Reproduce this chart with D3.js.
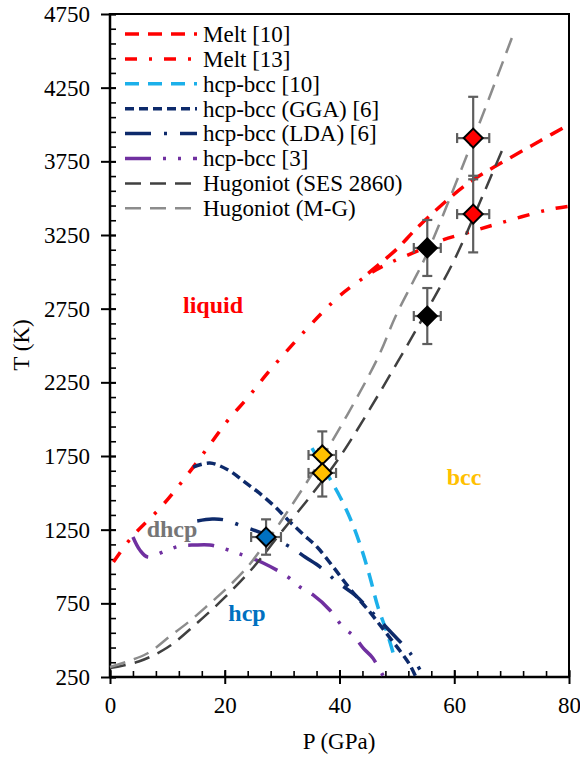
<!DOCTYPE html>
<html><head><meta charset="utf-8">
<script src="https://cdn.jsdelivr.net/npm/d3@7"></script>
<style>body{margin:0;background:#fff}svg{display:block}</style>
</head><body>
<svg id="c" width="580" height="761" font-family="Liberation Serif"></svg>
<script>
// ---- data ----
const pressureTicks = [0, 20, 40, 60, 80];
const tempTicks = [250, 750, 1250, 1750, 2250, 2750, 3250, 3750, 4250, 4750];
const pressureMinor = d3.range(0, 81, 4);
const tempMinor = d3.range(250, 4751, 100);

const melt10 = [[45,2990],[50,3155],[53.3,3290],[58,3460],[62,3590],[66,3690],[70,3780],[75,3890],[80,4000]];
const melt13 = [[0.6,1030],[3.8,1200],[8.9,1404],[13.6,1628],[18,1859],[20.6,1995],[24.1,2150],[27.2,2300],[30.5,2449],[34,2600],[37.1,2727],[40.1,2840],[45.8,3000],[49.1,3067],[54,3148],[58,3216],[62.7,3270],[68,3331],[76.2,3420],[80,3445]];
const hcpBcc10 = [[35.2,1804],[40.1,1472],[42.2,1295],[43.9,1112],[45.3,929],[46.7,725],[48.3,549],[49.7,365]];
const hcpBccGGA = [[14.5,1675],[17.4,1702],[20.6,1655],[23.5,1573],[26,1499],[28.8,1404],[31.2,1309],[33.8,1214],[36.1,1132],[38.9,997],[41.8,850],[45.3,690],[47.9,560],[50.5,430],[52.3,330],[53.3,250]];
const hcpBccLDA = [[15.2,1309],[17.8,1322],[20,1316],[22.5,1282],[27.2,1214],[31.7,1126],[34,1064],[36.6,997],[39.6,895],[42.9,800],[44.8,725],[49.1,549],[52.3,413],[54,300]];
const hcpBcc3 = [[4,1200],[5.2,1112],[6.6,1064],[9.6,1105],[12.2,1139],[14.8,1146],[17.4,1146],[19.5,1126],[22.1,1092],[26.7,1024],[31,929],[33.1,861],[35.4,807],[38.3,705],[40.6,589],[42.5,528],[44.1,447],[45.8,379],[47.7,250]];
const hugSES = [[0,311],[5,355],[10,450],[15,610],[20,790],[25,995],[30,1240],[35,1480],[40,1740],[45,2050],[50,2380],[55,2720],[60,3080],[65,3520],[68.5,3840]];
const hugMG = [[0,318],[6.3,406],[10.5,528],[13.9,630],[17.3,745],[20.4,854],[24.1,1003],[26.1,1105],[29.6,1295],[37.8,1791],[46.5,2402],[49.8,2700],[52.8,2931],[54.9,3094],[63.6,3929],[70.1,4594]];

// experimental points: P, T, dP, dT
const ptsRed = [[63.3,3908,2.8,280],[63.3,3392,2.8,260]];
const ptsBlack = [[55.3,3162,2.35,190],[55.3,2700,2.35,190]];
const ptsYellow = [[37,1757,2.4,160],[37,1635,2.4,160]];
const ptsBlue = [[27.2,1200,2.6,120]];

const legendNames = ["Melt [10]","Melt [13]","hcp-bcc [10]","hcp-bcc (GGA) [6]","hcp-bcc (LDA) [6]","hcp-bcc [3]","Hugoniot (SES 2860)","Hugoniot (M-G)"];

// ---- drawing ----
const FONT = "Liberation Serif";
const svg = d3.select("#c");
const x = d3.scaleLinear().domain([0,80]).range([110,569]);
const y = d3.scaleLinear().domain([250,4750]).range([677,14]);

const styles = [
  {data: melt10, color:"#FF0000", w:3.5, dash:"14,9"},
  {data: melt13, color:"#FF0000", w:3.5, dash:"12,12,3,12"},
  {data: hcpBcc10, color:"#1CB0EA", w:3.5, dash:"14,9"},
  {data: hcpBccGGA, color:"#0D2A6B", w:3.5, dash:"9,5"},
  {data: hcpBccLDA, color:"#0D2A6B", w:3.5, dash:"26,13,3,13"},
  {data: hcpBcc3, color:"#7030A0", w:3.5, dash:"26,12,3,12,3,12"},
  {data: hugSES, color:"#404040", w:2.5, dash:"16,9"},
  {data: hugMG, color:"#8C8C8C", w:2.5, dash:"16,9"}
];

const line = d3.line().x(d=>x(d[0])).y(d=>y(d[1])).curve(d3.curveCatmullRom.alpha(0.5));

// frame
svg.append("rect").attr("x",110).attr("y",y(4750)).attr("width",x(80)-110).attr("height",y(250)-y(4750))
  .attr("fill","none").attr("stroke","#000").attr("stroke-width",2);

// axes
const fs = 23;
const yAx = svg.append("g").attr("transform","translate(110,0)")
  .call(d3.axisLeft(y).tickValues(tempTicks).tickSize(9).tickPadding(11).tickFormat(d3.format("d")));
yAx.attr("font-family", FONT).attr("font-size", fs);
yAx.select(".domain").remove();
yAx.selectAll("line").attr("x1",6).attr("stroke-width",2);
yAx.selectAll("text").attr("font-family",FONT).attr("font-size",fs).attr("fill","#000");
const yMin = svg.append("g").attr("transform","translate(110,0)")
  .call(d3.axisRight(y).tickValues(tempMinor).tickSize(6).tickFormat(""));
yMin.select(".domain").remove();
yMin.selectAll("line").attr("stroke-width",1.6);

const xAx = svg.append("g").attr("transform","translate(0,677)")
  .call(d3.axisBottom(x).tickValues(pressureTicks).tickSize(7).tickPadding(13));
xAx.attr("font-family", FONT).attr("font-size", fs);
xAx.select(".domain").remove();
xAx.selectAll("line").attr("y1",-7).attr("stroke-width",2);
xAx.selectAll("text").attr("font-family",FONT).attr("font-size",fs).attr("fill","#000");
const xMin = svg.append("g").attr("transform","translate(0,677)")
  .call(d3.axisTop(x).tickValues(pressureMinor).tickSize(6).tickFormat(""));
xMin.select(".domain").remove();
xMin.selectAll("line").attr("stroke-width",1.6);

svg.append("line").attr("x1",110).attr("x2",110).attr("y1",y(4750)-1).attr("y2",678).attr("stroke","#000").attr("stroke-width",2.5);
svg.append("line").attr("x1",109).attr("x2",x(80)+1).attr("y1",677).attr("y2",677).attr("stroke","#000").attr("stroke-width",2.5);

// axis titles
svg.append("text").attr("x",339).attr("y",749).attr("text-anchor","middle").attr("font-family",FONT).attr("font-size",fs).text("P (GPa)");
svg.append("text").attr("transform","translate(29,345) rotate(-90)").attr("text-anchor","middle").attr("font-family",FONT).attr("font-size",fs).text("T (K)");

// curves
const plot = svg.append("g");
styles.forEach(s => {
  plot.append("path").attr("d", line(s.data)).attr("fill","none").attr("stroke",s.color)
    .attr("stroke-width",s.w).attr("stroke-dasharray",s.dash);
});

// region labels
const labels = [["liquid",213,313,"#FF0000"],["bcc",464,485,"#FFC000"],["dhcp",172,537,"#767676"],["hcp",247,621,"#0070C0"]];
labels.forEach(l => svg.append("text").attr("x",l[1]).attr("y",l[2]).attr("text-anchor","middle")
  .attr("font-size",24).attr("font-weight","bold").attr("font-family",FONT).attr("fill",l[3]).text(l[0]));

// error bars & diamonds
const eb = svg.append("g").attr("stroke","#5E5E5E").attr("stroke-width",2.2);
function drawPts(pts, fill){
  pts.forEach(p => {
    const cx = x(p[0]), cy = y(p[1]);
    const x0 = x(p[0]-p[2]), x1 = x(p[0]+p[2]), y0 = y(p[1]+p[3]), y1 = y(p[1]-p[3]);
    eb.append("line").attr("x1",cx).attr("x2",cx).attr("y1",y0).attr("y2",y1);
    eb.append("line").attr("x1",cx-5).attr("x2",cx+5).attr("y1",y0).attr("y2",y0);
    eb.append("line").attr("x1",cx-5).attr("x2",cx+5).attr("y1",y1).attr("y2",y1);
    eb.append("line").attr("x1",x0).attr("x2",x1).attr("y1",cy).attr("y2",cy);
    eb.append("line").attr("x1",x0).attr("x2",x0).attr("y1",cy-5).attr("y2",cy+5);
    eb.append("line").attr("x1",x1).attr("x2",x1).attr("y1",cy-5).attr("y2",cy+5);
  });
  return pts.map(p => ({p, fill}));
}
const allPts = [].concat(drawPts(ptsRed,"#FF0000"), drawPts(ptsBlack,"#000000"), drawPts(ptsYellow,"#FFC000"), drawPts(ptsBlue,"#0070C0"));
const sym = d3.symbol().type(d3.symbolSquare).size(180);
svg.append("g").selectAll("path").data(allPts).join("path")
  .attr("d", sym).attr("transform", d => `translate(${x(d.p[0])},${y(d.p[1])}) rotate(45)`)
  .attr("fill", d => d.fill).attr("stroke","#000").attr("stroke-width",2);

// legend
const lg = svg.append("g");
legendNames.forEach((name,i) => {
  const yy = 34 + i*24.9;
  const s = styles[i];
  lg.append("line").attr("x1",125).attr("x2",197).attr("y1",yy).attr("y2",yy)
    .attr("stroke",s.color).attr("stroke-width",s.w).attr("stroke-dasharray",s.dash);
  lg.append("text").attr("x",203).attr("y",yy).attr("dy","0.34em").attr("font-family",FONT).attr("font-size",fs).text(name);
});
</script>
</body></html>
